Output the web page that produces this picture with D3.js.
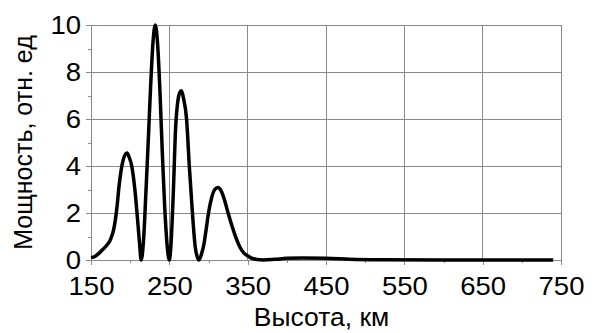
<!DOCTYPE html>
<html>
<head>
<meta charset="utf-8">
<script src="https://cdn.jsdelivr.net/npm/d3@7"></script>
<style>
  body { margin: 0; background: #fff; }
  svg { display: block; }
</style>
</head>
<body>
<div class="main-container"></div>
<script>
// altitude (km) and relative power
const heights = [150, 155, 160, 165, 170, 175, 179, 183, 186, 190, 193, 196, 199, 202, 206, 210, 212, 214,
  217, 220, 223, 226, 229, 232, 235, 238, 241, 244, 247, 250,
  252, 255, 258, 261, 263, 265.5, 268, 272, 275.5, 279.5, 283, 286, 288,
  291, 294, 297, 300, 304, 308, 312, 316, 320, 325, 330, 335, 340, 345, 350, 355, 362, 370,
  385, 400, 420, 450, 480, 520, 600, 740];
const power = [0.1, 0.15, 0.28, 0.45, 0.62, 0.88, 1.3, 2.2, 3.2, 4.1, 4.45, 4.55, 4.35, 4.0, 3.0, 1.5, 0.7, 0,
  0.8, 2.8, 5.0, 7.3, 9.2, 10, 9.2, 7.2, 4.6, 2.3, 0.7, 0,
  0.6, 2.8, 5.6, 6.8, 7.1, 7.2, 6.9, 6.0, 4.0, 2.0, 0.57, 0.1, 0,
  0.25, 0.65, 1.3, 2.0, 2.65, 3.0, 3.08, 2.95, 2.6, 2.0, 1.45, 0.95, 0.55, 0.3, 0.18, 0.08, 0.02, 0,
  0.03, 0.07, 0.08, 0.07, 0.03, 0.01, 0, 0];

const xTicks = [150, 250, 350, 450, 550, 650, 750];
const xMinor = [200, 300, 400, 500, 600, 700];
const yTicks = [0, 2, 4, 6, 8, 10];
const yMinor = [1, 3, 5, 7, 9];

const W = 600, H = 333;
const M = {top: 25, right: 39, bottom: 73, left: 91};
const FONT = "'Liberation Sans', Arial, sans-serif";
const GRID = "#8a8a8a";
const STRETCH = 1.1; // the original lettering is a bit wide

const svg = d3.select(".main-container").append("svg").attr("width", W).attr("height", H);

const x = d3.scaleLinear().domain([150, 750]).range([M.left, W - M.right]);
const y = d3.scaleLinear().domain([0, 10]).range([H - M.bottom, M.top]);

// grid
const grid = svg.append("g").attr("stroke", GRID).attr("stroke-width", 1).attr("shape-rendering", "crispEdges");
grid.selectAll(".v").data(xTicks.slice(1)).join("line")
  .attr("x1", d => x(d)).attr("x2", d => x(d)).attr("y1", y(0)).attr("y2", y(10));
grid.selectAll(".h").data(yTicks.slice(1)).join("line")
  .attr("x1", x(150)).attr("x2", x(750)).attr("y1", d => y(d)).attr("y2", d => y(d));

// axes
const styleAxis = (g) => {
  g.selectAll(".domain, .tick line").attr("stroke", GRID).attr("shape-rendering", "crispEdges");
  g.selectAll("text").attr("fill", "#000").style("font-family", FONT).style("font-size", "25px")
    .attr("transform", `scale(${STRETCH},1)`);
};
svg.append("g").attr("transform", `translate(0,${y(0)})`)
  .call(d3.axisBottom(x).tickValues(xMinor).tickSize(3).tickFormat("").tickSizeOuter(0))
  .call(styleAxis);
svg.append("g").attr("transform", `translate(0,${y(0)})`)
  .call(d3.axisBottom(x).tickValues(xTicks).tickSize(5).tickPadding(12).tickSizeOuter(0))
  .call(styleAxis);
svg.append("g").attr("transform", `translate(${x(150)},0)`)
  .call(d3.axisLeft(y).tickValues(yMinor).tickSize(3).tickFormat("").tickSizeOuter(0))
  .call(styleAxis);
svg.append("g").attr("transform", `translate(${x(150)},0)`)
  .call(d3.axisLeft(y).tickValues(yTicks).tickSize(5).tickPadding(4).tickSizeOuter(0))
  .call(styleAxis);

// curve
const pts = heights.map((h, i) => [h, power[i]]);
svg.append("path").datum(pts)
  .attr("fill", "none").attr("stroke", "#000").attr("stroke-width", 3.5)
  .attr("stroke-linejoin", "round")
  .attr("d", d3.line().x(d => x(d[0])).y(d => y(d[1])).curve(d3.curveMonotoneX));

// titles
svg.append("text").attr("transform", "translate(321.5,326) scale(1.06,1)")
  .attr("text-anchor", "middle").style("font-family", FONT).style("font-size", "25px")
  .text("Высота, км");
svg.append("text").attr("transform", `translate(32,${(y(0) + y(10)) / 2}) rotate(-90)`)
  .attr("text-anchor", "middle").style("font-family", FONT).style("font-size", "25px")
  .text("Мощность, отн. ед");
</script>
</body>
</html>
